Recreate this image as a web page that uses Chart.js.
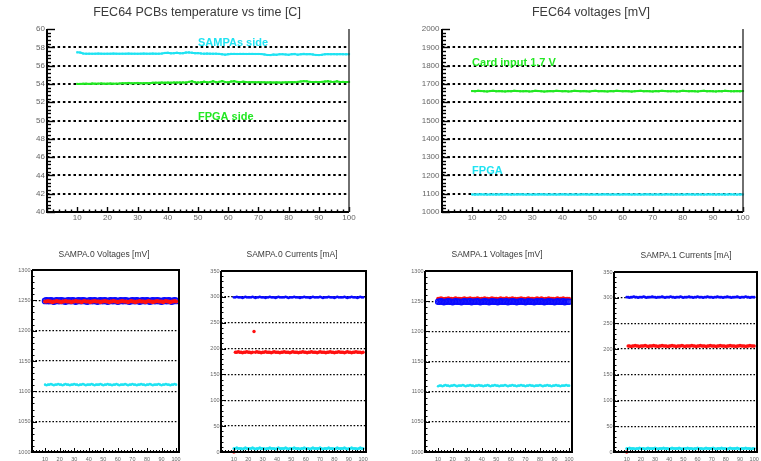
<!DOCTYPE html>
<html><head><meta charset="utf-8">
<script src="https://cdn.jsdelivr.net/npm/chart.js@4"></script>
<style>
html,body{margin:0;padding:0;background:#fff;width:761px;height:461px;overflow:hidden;position:relative;}
canvas{position:absolute;}
</style></head><body>
<script>
// ---------------- DATA ----------------
const xTime = [10,11,12,13,14,15,16,17,18,19,20,21,22,23,24,25,26,27,28,29,30,31,32,33,34,35,36,37,38,39,40,41,42,43,44,45,46,47,48,49,50,51,52,53,54,55,56,57,58,59,60,61,62,63,64,65,66,67,68,69,70,71,72,73,74,75,76,77,78,79,80,81,82,83,84,85,86,87,88,89,90,91,92,93,94,95,96,97,98,99,100];
const tempSampas = [57.45,57.42,57.32,57.30,57.30,57.29,57.30,57.31,57.30,57.29,
57.30,57.30,57.31,57.30,57.29,57.30,57.30,57.31,57.30,57.30,
57.29,57.30,57.31,57.30,57.30,57.31,57.30,57.30,57.32,57.38,
57.40,57.34,57.36,57.40,57.35,57.36,57.42,57.44,57.40,57.36,
57.37,57.33,57.30,57.31,57.30,57.29,57.30,57.28,57.24,57.20,
57.25,57.28,57.28,57.27,57.28,57.28,57.27,57.28,57.28,57.27,
57.27,57.26,57.22,57.16,57.15,57.20,57.18,57.24,57.25,57.22,
57.18,57.25,57.27,57.20,57.24,57.28,57.25,57.26,57.22,57.16,
57.15,57.18,57.24,57.26,57.25,57.26,57.24,57.26,57.25,57.24,57.25];
const tempFpga = [54.00,54.00,54.01,54.02,54.00,54.04,54.02,54.03,54.05,54.02,
54.03,54.04,54.02,54.03,54.05,54.08,54.06,54.10,54.07,54.08,
54.10,54.07,54.08,54.09,54.08,54.12,54.13,54.12,54.14,54.13,
54.14,54.13,54.15,54.14,54.15,54.16,54.15,54.22,54.28,54.18,
54.16,54.18,54.24,54.17,54.20,54.29,54.18,54.22,54.30,54.20,
54.17,54.26,54.30,54.22,54.20,54.24,54.20,54.19,54.20,54.18,
54.19,54.18,54.17,54.16,54.18,54.15,54.17,54.14,54.16,54.17,
54.18,54.20,54.19,54.22,54.26,54.30,54.28,54.22,54.20,54.21,
54.20,54.22,54.26,54.30,54.24,54.22,54.28,54.20,54.22,54.20,54.21];
const voltCard = [1661,1660,1662,1661,1660,1659,1661,1662,1660,1661,
1660,1659,1661,1660,1662,1661,1660,1660,1661,1659,
1660,1662,1661,1660,1658,1660,1661,1660,1662,1661,
1660,1661,1659,1660,1662,1661,1660,1661,1660,1659,
1661,1662,1660,1661,1660,1659,1661,1660,1662,1661,
1660,1661,1660,1658,1660,1661,1662,1660,1661,1660,
1659,1661,1660,1662,1661,1660,1660,1661,1659,1660,
1662,1661,1660,1661,1660,1659,1661,1662,1660,1661,
1660,1659,1661,1660,1662,1661,1660,1660,1661,1660,1661];
const voltFpga = [1096,1095,1096,1097,1096,1095,1096,1096,1095,1096,
1096,1097,1096,1095,1096,1096,1097,1096,1095,1096,
1095,1096,1096,1097,1096,1095,1096,1096,1095,1096,
1097,1096,1095,1096,1096,1095,1096,1097,1096,1095,
1096,1096,1095,1096,1097,1096,1095,1096,1096,1095,
1096,1097,1096,1095,1096,1096,1095,1096,1097,1096,
1095,1096,1096,1095,1096,1097,1096,1095,1096,1096,
1095,1096,1097,1096,1095,1096,1096,1095,1096,1097,
1096,1095,1096,1096,1095,1096,1097,1096,1095,1096,1096];

const s0vBlue = [1249,1250,1249,1249,1250,1249,1248,1249,1250,1249,
1249,1250,1249,1249,1248,1249,1250,1249,1249,1250,
1249,1248,1249,1250,1249,1249,1250,1249,1249,1248,
1249,1250,1249,1249,1250,1249,1248,1249,1250,1249,
1249,1250,1249,1248,1249,1250,1249,1249,1250,1249,
1248,1249,1250,1249,1249,1250,1249,1249,1248,1249,
1250,1249,1249,1250,1249,1248,1249,1250,1249,1249,
1250,1249,1248,1249,1250,1249,1249,1250,1249,1249,
1248,1249,1250,1249,1249,1250,1249,1248,1249,1250,1249];
const s0vRed = [1248,1248,1249,1248,1248,1247,1248,1248,1249,1248,
1248,1247,1248,1248,1249,1248,1248,1248,1247,1248,
1248,1249,1248,1248,1248,1247,1248,1249,1248,1248,
1248,1247,1248,1248,1249,1248,1248,1248,1247,1248,
1248,1249,1248,1248,1247,1248,1248,1249,1248,1248,
1247,1248,1248,1249,1248,1248,1248,1247,1248,1249,
1248,1248,1247,1248,1248,1249,1248,1248,1248,1247,
1248,1249,1248,1248,1247,1248,1248,1249,1248,1248,
1248,1247,1248,1249,1248,1248,1247,1248,1248,1249,1248];
const s0vCyan = [1111,1110,1111,1111,1112,1111,1110,1111,1111,1112,
1111,1111,1110,1111,1112,1111,1111,1110,1111,1111,
1112,1111,1111,1110,1111,1111,1112,1111,1110,1111,
1111,1111,1112,1111,1110,1111,1111,1111,1112,1111,
1110,1111,1111,1112,1111,1111,1110,1111,1111,1112,
1111,1110,1111,1111,1111,1112,1111,1110,1111,1111,
1112,1111,1111,1110,1111,1111,1112,1111,1111,1110,
1111,1111,1112,1111,1110,1111,1111,1111,1112,1111,
1110,1111,1111,1112,1111,1111,1110,1111,1111,1112,1111];
const s0iBlue = [299,299,300,299,299,299,298,299,300,299,
299,299,299,300,299,298,299,299,300,299,
299,299,298,299,299,300,299,299,299,298,
299,300,299,299,299,299,300,299,298,299,
299,299,300,299,299,299,298,299,299,300,
299,299,299,298,299,300,299,299,299,299,
300,299,298,299,299,299,300,299,299,299,
298,299,300,299,299,299,299,300,299,298,
299,299,300,299,299,299,298,299,300,299,299];
const s0iRed = [0,193,193,194,193,193,192,193,193,194,
193,193,192,193,233,193,194,193,193,192,
193,193,194,193,193,193,192,193,194,193,
193,193,192,193,193,194,193,193,193,192,
193,194,193,193,193,192,193,193,194,193,
193,192,193,193,194,193,193,193,192,193,
194,193,193,193,192,193,193,194,193,193,
192,193,193,194,193,193,193,192,193,194,
193,193,192,193,193,194,193,193,193,192,193];
const s0iCyan = [7,7,8,7,7,7,6,7,8,7,
7,7,7,8,7,6,7,7,8,7,
7,7,6,7,7,8,7,7,7,6,
7,8,7,7,7,7,8,7,6,7,
7,7,8,7,7,7,6,7,7,8,
7,7,7,6,7,8,7,7,7,7,
8,7,6,7,7,7,8,7,7,7,
6,7,8,7,7,7,7,8,7,6,
7,7,8,7,7,7,6,7,8,7,7];
const s1vRed = [1254,1254,1255,1254,1253,1254,1254,1255,1254,1254,
1253,1254,1255,1254,1254,1254,1253,1254,1255,1254,
1254,1254,1255,1253,1254,1254,1254,1255,1254,1253,
1254,1254,1255,1254,1254,1253,1254,1255,1254,1254,
1254,1253,1254,1255,1254,1254,1254,1255,1253,1254,
1254,1255,1254,1254,1253,1254,1254,1255,1254,1254,
1253,1254,1255,1254,1254,1254,1253,1254,1255,1254,
1254,1255,1254,1253,1254,1254,1255,1254,1254,1254,
1253,1254,1255,1254,1254,1254,1255,1253,1254,1254,1254];
const s1vBlue = [1249,1249,1250,1249,1248,1249,1249,1250,1249,1249,
1248,1249,1250,1249,1249,1249,1248,1249,1250,1249,
1249,1249,1250,1248,1249,1249,1249,1250,1249,1248,
1249,1249,1250,1249,1249,1248,1249,1250,1249,1249,
1249,1248,1249,1250,1249,1249,1249,1250,1248,1249,
1249,1250,1249,1249,1248,1249,1249,1250,1249,1249,
1248,1249,1250,1249,1249,1249,1248,1249,1250,1249,
1249,1250,1249,1248,1249,1249,1250,1249,1249,1249,
1248,1249,1250,1249,1249,1249,1250,1248,1249,1249,1249];
const s1vCyan = [1109,1110,1110,1109,1110,1111,1110,1110,1109,1110,
1110,1111,1110,1109,1110,1110,1110,1111,1110,1109,
1110,1110,1111,1110,1110,1109,1110,1110,1111,1110,
1110,1109,1110,1110,1111,1110,1109,1110,1110,1111,
1110,1110,1109,1110,1110,1110,1111,1110,1109,1110,
1110,1111,1110,1110,1109,1110,1110,1111,1110,1110,
1109,1110,1110,1111,1110,1110,1109,1110,1110,1110,
1111,1110,1109,1110,1110,1111,1110,1110,1109,1110,
1110,1111,1110,1110,1109,1110,1110,1110,1111,1110,1110];
const s1iBlue = [301,301,300,301,301,302,301,301,300,301,
301,301,302,301,300,301,301,301,302,301,
301,300,301,301,301,302,301,300,301,301,
301,302,301,301,300,301,301,301,302,301,
300,301,301,301,302,301,301,300,301,301,
302,301,301,301,300,301,301,302,301,301,
301,300,301,301,302,301,301,301,300,301,
301,302,301,301,300,301,301,301,302,301,
300,301,301,301,302,301,301,300,301,301,301];
const s1iRed = [0,206,206,205,206,206,207,206,206,205,
206,206,206,207,206,205,206,206,206,207,
206,206,205,206,206,207,206,206,206,205,
206,206,207,206,206,205,206,206,206,207,
206,205,206,206,206,206,207,206,206,205,
206,206,207,206,206,206,205,206,206,207,
206,206,206,205,206,206,207,206,206,206,
205,206,206,207,206,206,206,205,206,206,
207,206,206,206,205,206,206,207,206,206,206];
const s1iCyan = [7,7,8,7,7,7,6,7,7,8,
7,7,7,6,7,8,7,7,7,7,
8,7,6,7,7,7,8,7,7,7,
6,7,8,7,7,7,7,8,7,6,
7,7,7,8,7,7,7,6,7,7,
8,7,7,7,6,7,8,7,7,7,
7,8,7,6,7,7,7,8,7,7,
7,6,7,8,7,7,7,7,8,7,
6,7,7,7,8,7,7,7,6,7,7];

// tick labels
const topXTicks = [10,20,30,40,50,60,70,80,90,100];
const tempYTicks = [40,42,44,46,48,50,52,54,56,58,60];
const voltYTicks = [1000,1100,1200,1300,1400,1500,1600,1700,1800,1900,2000];
const botXTicks = [10,20,30,40,50,60,70,80,90,100];
const sampaVYTicks = [1000,1050,1100,1150,1200,1250,1300];
const sampaIYTicks = [0,50,100,150,200,250,300,350];

// ---------------- STYLE ----------------
const FAM = '"Liberation Sans", Arial, Helvetica, sans-serif';
const CYAN = '#1fe3f2', GREEN = '#22e822', BLUE = '#0a0aff', RED = '#ff1010';

const rootPlugin = {
  id: 'root',
  afterDatasetsDraw(chart, args, o) {
    const {ctx, chartArea: a} = chart;
    const xs = chart.scales.x, ys = chart.scales.y;
    ctx.save();
    ctx.strokeStyle = '#000';
    const ticks = (scale, major, minor, majLen, minLen, vert) => {
      const s = Math.ceil(scale.min / minor - 1e-9), e = Math.floor(scale.max / minor + 1e-9);
      for (let k = s; k <= e; k++) {
        const v = k * minor, r = v / major;
        const isMaj = Math.abs(r - Math.round(r)) < 1e-6;
        const len = isMaj ? majLen : minLen;
        const p = Math.round(scale.getPixelForValue(v)) + 0.5;
        ctx.lineWidth = o.tickW;
        ctx.beginPath();
        if (vert) { ctx.moveTo(a.left, p); ctx.lineTo(a.left + len, p); }
        else { ctx.moveTo(p, a.bottom); ctx.lineTo(p, a.bottom - len); }
        ctx.stroke();
      }
    };
    ticks(ys, o.yMajor, o.yMinor, o.yMajLen, o.yMinLen, true);
    ticks(xs, o.xMajor, o.xMinor, o.xMajLen, o.xMinLen, false);
    ctx.lineWidth = o.frameW;
    ctx.beginPath();
    ctx.moveTo(a.left, a.top); ctx.lineTo(a.left, a.bottom); ctx.lineTo(a.right, a.bottom);
    if (o.box) { ctx.lineTo(a.right, a.top); ctx.lineTo(a.left, a.top); }
    ctx.stroke();
    if (!o.box) {
      ctx.strokeStyle = '#222'; ctx.lineWidth = 1.3;
      ctx.beginPath(); ctx.moveTo(a.right, a.top); ctx.lineTo(a.right, a.bottom); ctx.stroke();
    }
    ctx.restore();
  },
  afterDraw(chart, args, o) {
    const {ctx, chartArea: a} = chart;
    ctx.save();
    ctx.textBaseline = 'middle';
    ctx.textAlign = 'center';
    ctx.fillStyle = '#3a3a3a';
    ctx.font = o.titleSize + 'px ' + FAM;
    ctx.fillText(o.title, (a.left + a.right) / 2 + o.titleDx, a.top - o.titleDy);
    (o.labels || []).forEach(l => {
      ctx.textAlign = 'left';
      ctx.fillStyle = l.color;
      ctx.font = 'bold 11px ' + FAM;
      ctx.fillText(l.text, chart.scales.x.getPixelForValue(l.x), chart.scales.y.getPixelForValue(l.y));
    });
    ctx.restore();
  }
};

function pts(xs, ys) { return xs.map((x, i) => ({x, y: ys[i]})); }

function makeChart(box, cfg) {
  const cv = document.createElement('canvas');
  const w = box.R - box.L + box.axisW + box.padRight;
  const h = box.B - box.T + box.padTop + box.xH;
  cv.width = w; cv.height = h;
  cv.style.left = (box.L - box.axisW) + 'px';
  cv.style.top = (box.T - box.padTop) + 'px';
  cv.style.width = w + 'px'; cv.style.height = h + 'px';
  document.body.appendChild(cv);
  const ymin = cfg.ymin, ymax = cfg.ymax;
  new Chart(cv, {
    type: 'scatter',
    data: {datasets: cfg.datasets},
    plugins: [rootPlugin],
    options: {
      responsive: false, animation: false, devicePixelRatio: 1, events: [],
      layout: {padding: {left: 0, top: box.padTop, right: box.padRight, bottom: 0}},
      plugins: {legend: {display: false}, tooltip: {enabled: false}, title: {display: false}, root: cfg.root},
      scales: {
        x: {
          type: 'linear', min: cfg.xmin, max: cfg.xmax,
          afterBuildTicks: s => { s.ticks = cfg.xTicks.map(v => ({value: v})); },
          afterFit: s => { s.height = box.xH; s.paddingLeft = 0; s.paddingRight = 0; },
          grid: {display: false, drawTicks: false},
          border: {display: false},
          ticks: {font: {size: cfg.tickSize, family: FAM}, color: '#666', padding: cfg.xPad, maxRotation: 0, autoSkip: false, callback: v => String(v)}
        },
        y: {
          type: 'linear', min: ymin, max: ymax,
          afterBuildTicks: s => { s.ticks = cfg.yTicks.map(v => ({value: v})); },
          afterFit: s => { s.width = box.axisW; s.paddingTop = 0; s.paddingBottom = 0; },
          grid: {
            drawTicks: false, lineWidth: cfg.gridW,
            color: c => (c.tick && (c.tick.value === ymin || c.tick.value === ymax)) ? 'rgba(0,0,0,0)' : '#000'
          },
          border: {display: false, dash: cfg.dash},
          ticks: {font: {size: cfg.tickSize, family: FAM}, color: '#666', padding: cfg.yPad, autoSkip: false, callback: v => String(v)}
        }
      }
    }
  });
}

const lineDs = (d, col) => ({data: d, showLine: true, borderColor: col, backgroundColor: col, borderWidth: 2, pointRadius: 1.5, pointStyle: 'rect', pointBorderWidth: 0, clip: 4});
const dotDs = (d, col, r, order) => ({data: d, showLine: false, borderColor: col, backgroundColor: col, pointRadius: r, pointBorderWidth: 0, order, clip: 6});
const ringDs = (d, col, r, order) => ({data: d, showLine: false, borderColor: col, backgroundColor: 'rgba(60,60,255,0.35)', pointRadius: r, pointBorderWidth: 1.2, order, clip: 6});

const topRoot = (title, labels) => ({title, titleSize: 12.5, titleDx: -1, titleDy: 16, labels, box: false, frameW: 2, tickW: 1.4,
  xMajLen: 5, xMinLen: 2.5, xMajor: 10, xMinor: 2});
const botRoot = (title, yMajor, yMinor, dy) => ({title, titleSize: 8.5, titleDx: -1.5, titleDy: dy, box: true, frameW: 2, tickW: 1,
  xMajor: 10, xMinor: 2, xMajLen: 4, xMinLen: 2, yMajor, yMinor, yMajLen: 5, yMinLen: 2.5});

// Panel 1: temperatures
makeChart({L: 47, T: 29, R: 349, B: 212, axisW: 47, padTop: 29, padRight: 12, xH: 20}, {
  xmin: 0, xmax: 100, ymin: 40, ymax: 60, xTicks: topXTicks, yTicks: tempYTicks,
  tickSize: 8, xPad: 1, yPad: 2, gridW: 2, dash: [2.5, 2.8],
  datasets: [lineDs(pts(xTime, tempSampas), CYAN), lineDs(pts(xTime, tempFpga), GREEN)],
  root: Object.assign(topRoot('FEC64 PCBs temperature vs time [C]', [
    {text: 'SAMPAs side', x: 50, y: 58.47, color: CYAN},
    {text: 'FPGA side', x: 50, y: 50.37, color: GREEN}
  ]), {yMajor: 2, yMinor: 0.4, yMajLen: 8, yMinLen: 4})
});

// Panel 2: FEC voltages
makeChart({L: 442, T: 29, R: 743, B: 212, axisW: 40, padTop: 29, padRight: 12, xH: 20}, {
  xmin: 0, xmax: 100, ymin: 1000, ymax: 2000, xTicks: topXTicks, yTicks: voltYTicks,
  tickSize: 8, xPad: 1, yPad: 2.5, gridW: 2, dash: [2.5, 2.8],
  datasets: [lineDs(pts(xTime, voltCard), GREEN), lineDs(pts(xTime, voltFpga), CYAN)],
  root: Object.assign(topRoot('FEC64 voltages [mV]', [
    {text: 'Card input 1.7 V', x: 10, y: 1815, color: GREEN},
    {text: 'FPGA', x: 10, y: 1224, color: CYAN}
  ]), {titleDx: -1.5, yMajor: 100, yMinor: 20, yMajLen: 8, yMinLen: 4})
});

// Panel 3: SAMPA.0 voltages
makeChart({L: 32, T: 270, R: 179, B: 452, axisW: 32, padTop: 30, padRight: 8, xH: 11}, {
  xmin: 1, xmax: 102, ymin: 1000, ymax: 1300, xTicks: botXTicks, yTicks: sampaVYTicks,
  tickSize: 5.5, xPad: 4.5, yPad: 1.5, gridW: 1.3, dash: [1.6, 1.8],
  datasets: [dotDs(pts(xTime, s0vRed), RED, 2, 0), ringDs(pts(xTime, s0vBlue), BLUE, 2.8, 1), dotDs(pts(xTime, s0vCyan), CYAN, 1.3, 2)],
  root: botRoot('SAMPA.0 Voltages [mV]', 50, 10, 15)
});

// Panel 4: SAMPA.0 currents
makeChart({L: 221, T: 271, R: 366, B: 452, axisW: 30, padTop: 31, padRight: 8, xH: 11}, {
  xmin: 1, xmax: 102, ymin: 0, ymax: 350, xTicks: botXTicks, yTicks: sampaIYTicks,
  tickSize: 5.5, xPad: 4.5, yPad: 1.5, gridW: 1.3, dash: [1.6, 1.8],
  datasets: [dotDs(pts(xTime, s0iBlue), BLUE, 1.4, 1), dotDs(pts(xTime, s0iRed), RED, 1.7, 0), dotDs(pts(xTime, s0iCyan), CYAN, 1.5, 2)],
  root: botRoot('SAMPA.0 Currents [mA]', 50, 10, 16)
});

// Panel 5: SAMPA.1 voltages
makeChart({L: 425, T: 271, R: 572, B: 452, axisW: 30, padTop: 31, padRight: 8, xH: 11}, {
  xmin: 1, xmax: 102, ymin: 1000, ymax: 1300, xTicks: botXTicks, yTicks: sampaVYTicks,
  tickSize: 5.5, xPad: 4.5, yPad: 1.5, gridW: 1.3, dash: [1.6, 1.8],
  datasets: [dotDs(pts(xTime, s1vRed), RED, 2, 1), ringDs(pts(xTime, s1vBlue), BLUE, 2.6, 0), dotDs(pts(xTime, s1vCyan), CYAN, 1.3, 2)],
  root: botRoot('SAMPA.1 Voltages [mV]', 50, 10, 16)
});

// Panel 6: SAMPA.1 currents
makeChart({L: 614, T: 272, R: 759, B: 452, axisW: 30, padTop: 32, padRight: 2, xH: 11}, {
  xmin: 1, xmax: 102, ymin: 0, ymax: 350, xTicks: botXTicks, yTicks: sampaIYTicks,
  tickSize: 5.5, xPad: 4.5, yPad: 1.5, gridW: 1.3, dash: [1.6, 1.8],
  datasets: [dotDs(pts(xTime, s1iBlue), BLUE, 1.4, 1), dotDs(pts(xTime, s1iRed), RED, 1.7, 0), dotDs(pts(xTime, s1iCyan), CYAN, 1.5, 2)],
  root: Object.assign(botRoot('SAMPA.1 Currents [mA]', 50, 10, 16), {titleDx: 0.5})
});
</script>
</body></html>
